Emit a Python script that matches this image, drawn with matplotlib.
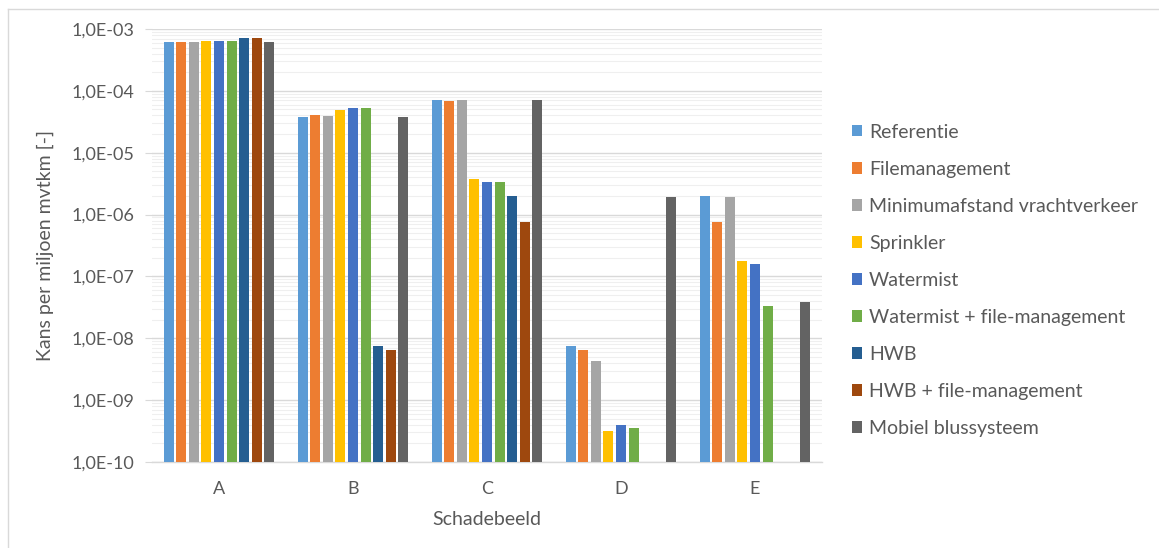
import numpy as np
import matplotlib
matplotlib.use("Agg")
import matplotlib.pyplot as plt
from matplotlib.ticker import FuncFormatter, LogLocator, NullFormatter
from matplotlib.lines import Line2D

plt.rcParams['font.family'] = ['Lato', 'DejaVu Sans']

categories = ["A", "B", "C", "D", "E"]
series_names = [
    "Referentie",
    "Filemanagement",
    "Minimumafstand vrachtverkeer",
    "Sprinkler",
    "Watermist",
    "Watermist + file-management",
    "HWB",
    "HWB + file-management",
    "Mobiel blussysteem",
]
nan = np.nan
referentie      = [6.2e-4, 3.8e-5, 7.0e-5, 7.6e-9, 2.0e-6]
filemanagement  = [6.2e-4, 4.0e-5, 6.9e-5, 6.5e-9, 7.7e-7]
minimumafstand  = [6.2e-4, 3.9e-5, 7.0e-5, 4.3e-9, 1.9e-6]
sprinkler       = [6.4e-4, 4.9e-5, 3.7e-6, 3.2e-10, 1.75e-7]
watermist       = [6.4e-4, 5.2e-5, 3.4e-6, 4.0e-10, 1.6e-7]
watermist_fm    = [6.5e-4, 5.2e-5, 3.4e-6, 3.5e-10, 3.3e-8]
hwb             = [7.2e-4, 7.6e-9, 2.0e-6, nan, nan]
hwb_fm          = [7.2e-4, 6.5e-9, 7.7e-7, nan, nan]
mobiel          = [6.2e-4, 3.8e-5, 7.0e-5, 1.9e-6, 3.9e-8]

series_values = [referentie, filemanagement, minimumafstand, sprinkler,
                 watermist, watermist_fm, hwb, hwb_fm, mobiel]
colors = ["#5B9BD5", "#ED7D31", "#A5A5A5", "#FFC000", "#4472C4",
          "#70AD47", "#255E91", "#9E480E", "#636363"]

text_color = "#595959"
W, H = 1159, 548
fig = plt.figure(figsize=(W / 100, H / 100), dpi=100)
ax = fig.add_axes([152 / W, 1 - 462 / H, (822 - 152) / W, (462 - 29) / H])

ymin, ymax = 1e-10, 1e-3
n = len(series_names)
slot = 0.84 / n
bar_w = slot * 0.80
x = np.arange(len(categories))
for i, (name, vals, col) in enumerate(zip(series_names, series_values, colors)):
    v = np.array(vals, dtype=float)
    pos = x - 0.42 + slot * (i + 0.5)
    ax.bar(pos, v - ymin, bottom=ymin, width=bar_w, color=col, label=name,
           zorder=3, linewidth=0)

ax.set_yscale("log")
ax.set_ylim(ymin, ymax)
ax.set_xlim(-0.5, len(categories) - 0.5)

ax.yaxis.set_major_locator(LogLocator(base=10, numticks=20))
ax.yaxis.set_minor_locator(LogLocator(base=10, subs=np.arange(2, 10), numticks=20))
ax.yaxis.set_minor_formatter(NullFormatter())


def sci_label(v, _pos):
    e = int(round(np.log10(v)))
    sign = "-" if e < 0 else ""
    return f"1,0E{sign}{abs(e):02d}"


ax.yaxis.set_major_formatter(FuncFormatter(sci_label))
ax.grid(which="major", axis="y", color="#D9D9D9", linewidth=1.0, zorder=0)
ax.grid(which="minor", axis="y", color="#EFEFEF", linewidth=0.8, zorder=0)

for s in ["top", "right", "left"]:
    ax.spines[s].set_visible(False)
ax.spines["bottom"].set_color("#D9D9D9")
ax.spines["bottom"].set_linewidth(1.0)

ax.set_xticks(x)
ax.set_xticklabels(categories)
ax.tick_params(axis="x", length=0, pad=14, labelsize=13, labelcolor=text_color)
ax.tick_params(axis="y", which="major", length=5, color="#D9D9D9",
               pad=8, labelsize=13, labelcolor=text_color)
ax.tick_params(axis="y", which="minor", length=0)

ax.set_xlabel("Schadebeeld", fontsize=14, color=text_color, labelpad=10)
ax.set_ylabel("Kans per miljoen mvtkm [-]", fontsize=14, color=text_color, labelpad=12)

handles, labels = ax.get_legend_handles_labels()
leg = fig.legend(handles, labels, loc="upper left",
                 bbox_to_anchor=(834 / W, 1 - 106 / H), frameon=False,
                 fontsize=14, labelcolor=text_color, handlelength=0.55,
                 handleheight=0.55, handletextpad=0.35, labelspacing=1.03)

# chart frame
fig.add_artist(Line2D([8 / W, 1], [1 - 9 / H, 1 - 9 / H], transform=fig.transFigure,
                      color="#D9D9D9", linewidth=1.0))
fig.add_artist(Line2D([8 / W, 8 / W], [0, 1 - 9 / H], transform=fig.transFigure,
                      color="#D9D9D9", linewidth=1.0))

fig.savefig("out.png", dpi=100, facecolor="white")
